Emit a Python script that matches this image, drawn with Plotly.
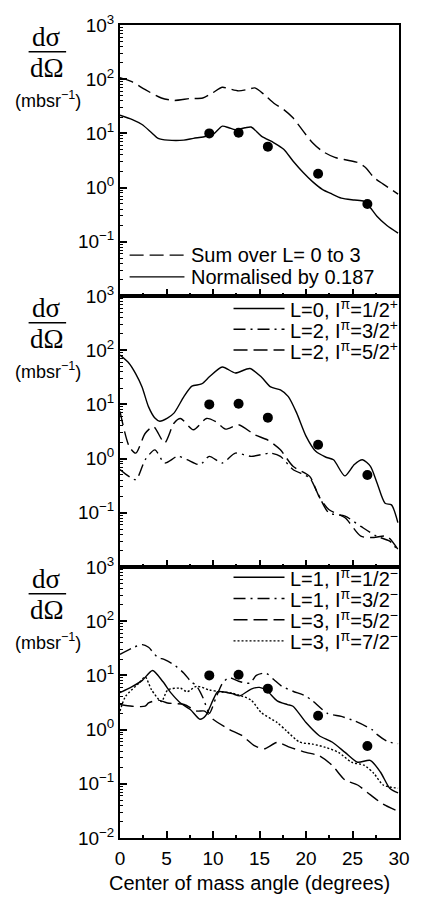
import plotly.graph_objects as go

# ---------------- data ----------------
exp_angle = [9.6, 12.75, 15.9, 21.3, 26.6]
exp_xs = [10.0, 10.3, 5.7, 1.8, 0.5]

# panel 1
sum_angle = [0, 1.33, 2.72, 4.45, 5.83, 7.56, 8.9, 9.95, 11.0, 11.7, 12.75, 13.8, 14.5, 15.5, 16.55,
             17.6, 18.6, 19.7, 20.7, 21.75, 23.1, 24.5, 25.55, 26.4, 27.3, 28.3, 29.9]
sum_xs = [107, 89, 64, 45, 40.5, 44, 45, 56, 71, 67, 61, 65, 69, 52, 36,
          27.6, 19.4, 11, 6.7, 4.7, 3.6, 3.2, 2.9, 2.35, 1.54, 1.16, 0.76]

norm_angle = [0, 1.33, 2.37, 3.4, 4.1, 5.15, 6.87, 7.9, 8.95, 10.0, 11.0, 11.7, 12.4, 13.45, 14.1,
              15.2, 16.55, 17.6, 18.6, 19.7, 20.7, 21.75, 22.8, 23.8, 25.2, 26.25, 26.9, 27.6, 28.7, 29.9]
norm_xs = [21.7, 18, 14.6, 10.3, 8.1, 7.5, 7.5, 8.1, 8.6, 9.6, 13.6, 12.7, 11.7, 12.7, 13.1,
           8.9, 6.7, 5.1, 3.1, 1.9, 1.29, 0.93, 0.76, 0.64, 0.59, 0.56, 0.43, 0.30, 0.20, 0.145]

# panel 2
l0p_angle = [0, 0.99, 1.68, 2.37, 3.06, 3.75, 4.27, 5.1, 5.8, 6.87, 7.73, 8.77, 9.64, 11.0, 12.4,
             13.96, 15.2, 16.2, 17.25, 18.1, 19.0, 20.0, 21.05, 22.1, 22.96, 24.17, 25.2, 26.07,
             26.93, 27.63, 28.5, 29.19, 29.88]
l0p_xs = [81, 57, 37, 21, 9.1, 5.6, 4.9, 5.6, 6.9, 13.9, 21.7, 23.8, 32.6, 49, 38,
          46, 32, 21, 18.5, 13.9, 6.9, 2.6, 1.36, 1.07, 0.95, 0.48, 0.78, 0.95,
          0.72, 0.36, 0.15, 0.14, 0.066]

l2a_angle = [0, 1.7, 2.7, 3.75, 4.8, 6.2, 7.2, 8.6, 9.6, 11.0, 12.4, 14.1, 16.2, 17.25, 18.6,
             20.4, 21.25, 22.45, 24.2, 25.9, 27.6, 29.0, 29.9]
l2a_xs = [0.63, 0.41, 0.95, 1.45, 0.83, 1.1, 0.96, 0.77, 1.1, 0.83, 1.26, 1.1, 1.26, 1.1, 0.63,
          0.44, 0.23, 0.1, 0.087, 0.056, 0.037, 0.030, 0.02]

l2b_angle = [0, 1.0, 1.7, 2.7, 3.6, 4.8, 5.8, 6.5, 7.9, 9.3, 10.3, 11.35, 12.75, 14.5, 15.9,
             17.25, 18.6, 20.4, 21.4, 22.45, 24.2, 25.9, 27.3, 28.7, 29.9]
l2b_xs = [7.4, 1.66, 1.26, 2.9, 3.9, 1.94, 4.5, 5.5, 3.4, 5.5, 4.8, 3.5, 4.2, 2.74, 2.2,
          1.45, 0.72, 0.47, 0.2, 0.115, 0.081, 0.037, 0.035, 0.037, 0.021]

# panel 3
l1a_angle = [0, 1.3, 2.4, 3.5, 4.6, 5.5, 6.5, 7.56, 8.6, 9.2, 10.0, 10.5, 11.0, 12.07, 12.9,
             14.1, 15.0, 15.8, 16.9, 18.0, 18.6, 20.0, 21.4, 22.8, 24.2, 25.55, 26.9, 28.0, 29.0, 29.9]
l1a_xs = [4.8, 6.2, 8.1, 12.3, 7.7, 4.7, 3.1, 2.35, 1.55, 1.8, 3.5, 5.0, 5.0, 4.6, 4.2,
          5.6, 6.0, 5.2, 3.4, 2.9, 2.7, 1.35, 0.78, 0.59, 0.38, 0.25, 0.27, 0.165, 0.083, 0.068]

l1b_angle = [0, 1.3, 2.4, 3.07, 4.0, 4.8, 5.84, 6.87, 7.56, 8.26, 8.95, 9.6, 10.3, 11.0, 11.7,
             12.75, 13.97, 14.66, 15.7, 16.56, 17.4, 18.6, 19.9, 20.7, 22.3, 23.8, 25.2, 27.1,
             27.7, 28.8, 29.9]
l1b_xs = [24.5, 32, 37, 33, 22, 19.5, 15.5, 11, 7.9, 6.3, 3.8, 2.0, 3.8, 7.1, 9.1,
          7.8, 7.2, 10, 11, 8.3, 6.3, 5.1, 4.2, 3.4, 2.0, 1.75, 1.45, 1.0,
          0.8, 0.6, 0.55]

l3a_angle = [0, 1.3, 2.7, 3.07, 4.1, 5.1, 6.9, 8.25, 9.1, 10.0, 11.7, 13.1, 14.5, 15.5, 16.9,
             18.3, 20.0, 21.4, 22.8, 24.2, 25.55, 26.9, 28.3, 29.9]
l3a_xs = [2.9, 2.7, 2.7, 3.1, 3.5, 3.1, 2.9, 2.2, 2.2, 1.55, 1.02, 0.78, 0.5, 0.44, 0.58,
          0.47, 0.38, 0.33, 0.22, 0.117, 0.095, 0.063, 0.042, 0.031]

l3b_angle = [0, 0.6, 2.0, 2.7, 3.4, 4.45, 5.14, 6.5, 7.2, 8.26, 9.6, 10.7, 12.07, 14.1, 15.2,
             16.9, 17.9, 19.3, 20.7, 22.1, 23.5, 24.9, 26.25, 27.3, 28.3, 29.9]
l3b_xs = [2.2, 4.1, 7.1, 9.4, 5.4, 3.3, 5.4, 5.8, 5.0, 6.3, 5.4, 5.0, 4.7, 3.5, 2.05,
          1.35, 0.95, 0.59, 0.54, 0.47, 0.38, 0.25, 0.22, 0.155, 0.095, 0.083]

x_ticks = [0, 5, 10, 15, 20, 25, 30]
y_ticks_upper = [1e-1, 1, 10, 100, 1000]
y_text_upper = ["10<sup>−1</sup>", "10<sup>0</sup>", "10<sup>1</sup>", "10<sup>2</sup>", "10<sup>3</sup>"]
y_ticks_lower = [1e-2] + y_ticks_upper
y_text_lower = ["10<sup>−2</sup>"] + y_text_upper

legend1_names = ["Sum over L= 0 to 3", "Normalised by 0.187"]
legend2_names = ["L=0, I<sup>π</sup>=1/2<sup>+</sup>", "L=2, I<sup>π</sup>=3/2<sup>+</sup>",
                 "L=2, I<sup>π</sup>=5/2<sup>+</sup>"]
legend3_names = ["L=1, I<sup>π</sup>=1/2<sup>−</sup>", "L=1, I<sup>π</sup>=3/2<sup>−</sup>",
                 "L=3, I<sup>π</sup>=5/2<sup>−</sup>", "L=3, I<sup>π</sup>=7/2<sup>−</sup>"]

# ---------------- figure ----------------
W, H = 422, 903
ML, MR, MT, MB = 120, 12, 15, 65
PW, PH = W - ML - MR, H - MT - MB

SANS = "Liberation Sans, Arial, sans-serif"
SERIF = "Liberation Serif, Times New Roman, serif"

DASH = "14px,6px"
DASHDOT = "12px,5px,2px,5px"
DOT = "2px,2px"

fig = go.Figure()


def add_line(x, y, name, dash, ax):
    fig.add_trace(go.Scatter(
        x=x, y=y, name=name, mode="lines", showlegend=False,
        line=dict(color="black", width=1.4, dash=dash, shape="spline", smoothing=0.7),
        xaxis=ax[0], yaxis=ax[1]))


def add_exp(ax):
    fig.add_trace(go.Scatter(
        x=exp_angle, y=exp_xs, mode="markers", showlegend=False, name="data",
        marker=dict(color="black", size=10, symbol="circle"),
        xaxis=ax[0], yaxis=ax[1]))


# panel 1
add_line(sum_angle, sum_xs, legend1_names[0], DASH, ("x", "y"))
add_line(norm_angle, norm_xs, legend1_names[1], "solid", ("x", "y"))
add_exp(("x", "y"))

# panel 2
add_line(l0p_angle, l0p_xs, legend2_names[0], "solid", ("x2", "y2"))
add_line(l2a_angle, l2a_xs, legend2_names[1], DASHDOT, ("x2", "y2"))
add_line(l2b_angle, l2b_xs, legend2_names[2], DASH, ("x2", "y2"))
add_exp(("x2", "y2"))

# panel 3
add_line(l1a_angle, l1a_xs, legend3_names[0], "solid", ("x3", "y3"))
add_line(l1b_angle, l1b_xs, legend3_names[1], DASHDOT, ("x3", "y3"))
add_line(l3a_angle, l3a_xs, legend3_names[2], DASH, ("x3", "y3"))
add_line(l3b_angle, l3b_xs, legend3_names[3], DOT, ("x3", "y3"))
add_exp(("x3", "y3"))


def xaxis(show_labels, anchor):
    return dict(
        range=[0, 30], anchor=anchor, domain=[0, 1],
        showline=True, linecolor="black", linewidth=2, mirror=True,
        showgrid=False, zeroline=False,
        ticks="inside", ticklen=7, tickwidth=1.5, tickcolor="black",
        tickmode="array", tickvals=x_ticks,
        minor=dict(ticks="inside", ticklen=3, tickwidth=1.5, tickcolor="black",
                   tickmode="array", tickvals=[2.5, 7.5, 12.5, 17.5, 22.5, 27.5]),
        showticklabels=show_labels,
        tickfont=dict(family=SANS, size=19, color="black"),
        ticklabelstandoff=2,
    )


minor_vals = [m * 10 ** e for e in range(-2, 3) for m in range(2, 10)]


def yaxis(domain, vals, text, anchor):
    return dict(
        type="log", range=[-2, 3], domain=domain, anchor=anchor,
        showline=True, linecolor="black", linewidth=2, mirror=True,
        showgrid=False, zeroline=False,
        ticks="inside", ticklen=7, tickwidth=1.5, tickcolor="black",
        tickmode="array", tickvals=vals, ticktext=text,
        minor=dict(ticks="inside", ticklen=3, tickwidth=1.2, tickcolor="black",
                   tickmode="array", tickvals=minor_vals),
        tickfont=dict(family=SANS, size=19, color="black"),
        ticklabelstandoff=0,
    )


def py2paper(py):
    return (H - MB - py) / PH


def px2paper(px):
    return (px - ML) / PW


fig.update_layout(
    width=W, height=H,
    margin=dict(l=ML, r=MR, t=MT, b=MB),
    paper_bgcolor="white", plot_bgcolor="white",
    xaxis=xaxis(False, "y"),
    xaxis2=dict(xaxis(False, "y2"), matches="x"),
    xaxis3=dict(xaxis(True, "y3"), matches="x"),
    yaxis=yaxis([2 / 3, 1], y_ticks_upper, y_text_upper, "x"),
    yaxis2=yaxis([1 / 3, 2 / 3], y_ticks_upper, y_text_upper, "x2"),
    yaxis3=yaxis([0, 1 / 3], y_ticks_lower, y_text_lower, "x3"),
    showlegend=False,
)


# hand-built legends (sample line + label), one per panel
def legend_block(names, dashes, rows, x0, x1, xt, size):
    for name, dash, row in zip(names, dashes, rows):
        fig.add_shape(type="line", xref="paper", yref="paper",
                      x0=px2paper(x0), x1=px2paper(x1), y0=py2paper(row), y1=py2paper(row),
                      line=dict(color="black", width=1.4, dash=dash))
        fig.add_annotation(text=name, x=px2paper(xt), y=py2paper(row), xref="paper", yref="paper",
                           showarrow=False, xanchor="left", yanchor="middle",
                           font=dict(family=SANS, size=size, color="black"))


legend_block(legend1_names, [DASH, "solid"], [248, 270], 130, 187, 192, 20)
legend_block(legend2_names, ["solid", DASHDOT, DASH], [302, 323, 344], 238, 291, 295, 20)
legend_block(legend3_names, ["solid", DASHDOT, DASH, DOT], [574, 595.5, 617, 638.5], 238, 291, 295, 20)

# y-axis titles (fraction) for each panel
panel_h = PH / 3
for k in range(3):
    off = k * panel_h
    fig.add_annotation(text="dσ", x=px2paper(44), y=py2paper(43 + off), xref="paper", yref="paper",
                       showarrow=False, font=dict(family=SERIF, size=27, color="black"),
                       xanchor="center", yanchor="bottom", borderpad=0)
    fig.add_shape(type="line", xref="paper", yref="paper",
                  x0=px2paper(25), x1=px2paper(64), y0=py2paper(42 + off), y1=py2paper(42 + off),
                  line=dict(color="black", width=1.5))
    fig.add_annotation(text="dΩ", x=px2paper(44), y=py2paper(42 + off), xref="paper", yref="paper",
                       showarrow=False, font=dict(family=SERIF, size=27, color="black"),
                       xanchor="center", yanchor="top", borderpad=0)
    fig.add_annotation(text="(mbsr<sup>−1</sup>)", x=px2paper(45), y=py2paper(90 + off),
                       xref="paper", yref="paper", showarrow=False,
                       font=dict(family=SANS, size=18, color="black"),
                       xanchor="center", yanchor="middle", borderpad=0)

fig.add_annotation(text="Center of mass angle (degrees)", x=px2paper(255), y=py2paper(884),
                   xref="paper", yref="paper", showarrow=False,
                   font=dict(family=SANS, size=20, color="black"),
                   xanchor="center", yanchor="middle")

fig.write_html("out.html")
